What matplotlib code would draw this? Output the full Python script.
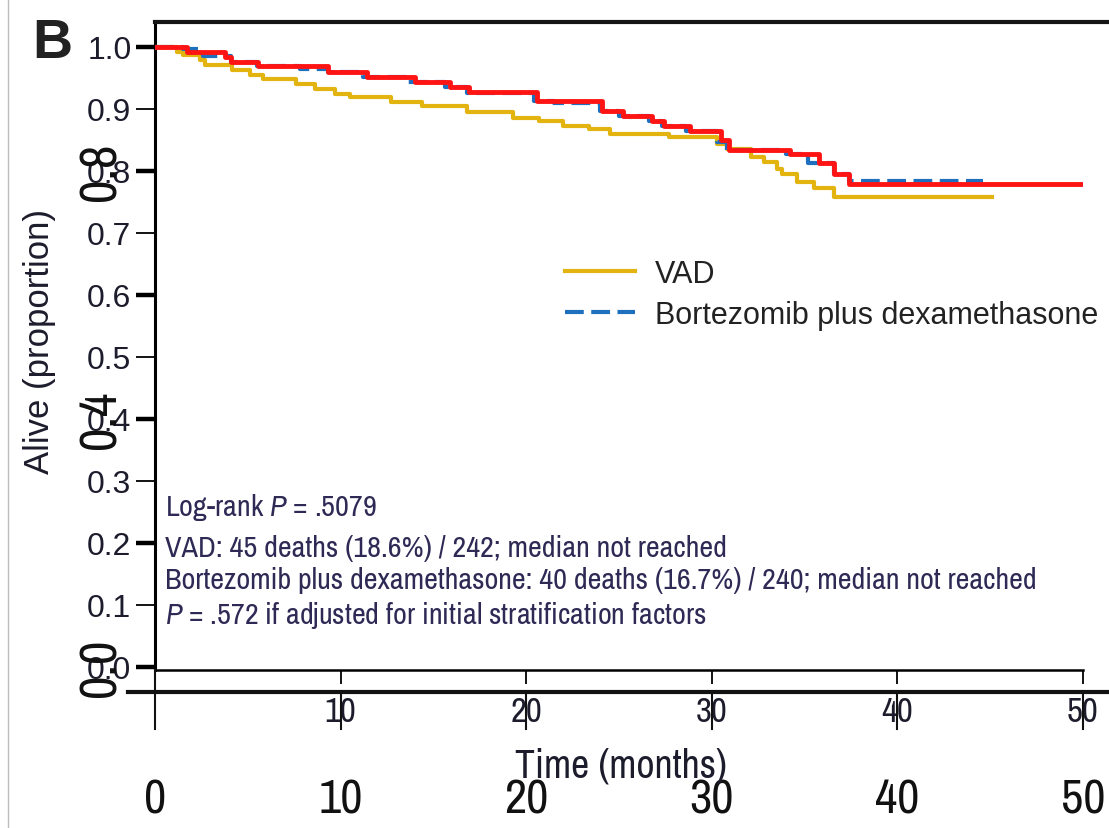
import numpy as np
import matplotlib
matplotlib.use('Agg')
import matplotlib.pyplot as plt
from matplotlib.lines import Line2D
from matplotlib import font_manager
from matplotlib.transforms import blended_transform_factory

W, H = 1109, 829

# Kaplan-Meier steps (months, proportion alive)
vad_t = [0, 1.17, 1.5, 2.42, 2.7, 4.13, 5.1, 5.8, 7.6, 8.6, 9.7, 10.5, 12.7, 14.4, 16.8,
         19.3, 20.7, 22.0, 23.4, 24.5, 27.7, 30.3, 30.8, 32.1, 32.8, 33.5, 33.8, 34.6,
         35.5, 36.6, 45.1]
vad_s = [1.0, 0.991, 0.986, 0.978, 0.970, 0.962, 0.954, 0.948, 0.940, 0.932, 0.924, 0.919,
         0.911, 0.905, 0.895, 0.885, 0.880, 0.873, 0.867, 0.860, 0.854, 0.844, 0.835,
         0.822, 0.814, 0.803, 0.795, 0.782, 0.772, 0.758, 0.758]

bd_t = [0, 1.5, 2.6, 4.1, 5.5, 7.8, 9.3, 11.2, 13.6, 15.6, 16.8, 20.4, 21.5, 24.0, 25.0,
        26.6, 27.3, 28.6, 30.3, 30.8, 34.0, 35.2, 36.6, 37.4, 44.6]
bd_s = [1.0, 0.996, 0.985, 0.976, 0.969, 0.964, 0.959, 0.951, 0.944, 0.935, 0.925, 0.913,
        0.909, 0.897, 0.889, 0.881, 0.873, 0.865, 0.846, 0.834, 0.827, 0.813, 0.795,
        0.784, 0.784]

# red re-traced curve drawn over the original
red_t = [0, 1.74, 3.77, 4.1, 5.56, 9.33, 11.4, 14.0, 15.9, 16.9, 20.6, 24.1, 25.2, 26.8,
         27.4, 28.8, 30.5, 30.9, 34.2, 35.8, 36.6, 37.4, 49.9]
red_s = [1.0, 0.991, 0.983, 0.976, 0.969, 0.959, 0.951, 0.944, 0.935, 0.927, 0.913, 0.897,
         0.889, 0.881, 0.873, 0.865, 0.849, 0.834, 0.827, 0.813, 0.795, 0.779, 0.779]

ytick_vals = [0.0, 0.1, 0.2, 0.3, 0.4, 0.5, 0.6, 0.7, 0.8, 0.9, 1.0]
ytick_labels = ['0.0', '0.1', '0.2', '0.3', '0.4', '0.5', '0.6', '0.7', '0.8', '0.9', '1.0']
xtick_vals = [10, 20, 30, 40, 50]
xtick_labels = ['10', '20', '30', '40', '50']
over_xvals = [0, 10, 20, 30, 40, 50]
over_xlabels = ['0', '10', '20', '30', '40', '50']
over_yvals = [0.8, 0.4, 0.0]
over_ylabels = ['0.8', '0.4', '0.0']
legend_labels = ['VAD', 'Bortezomib plus dexamethasone']
notes = ['Log-rank $P$ = .5079',
         'VAD: 45 deaths (18.6%) / 242; median not reached',
         'Bortezomib plus dexamethasone: 40 deaths (16.7%) / 240; median not reached',
         '$P$ = .572 if adjusted for initial stratification factors']

YEL = '#e3b30f'
BLU = '#1f6fbf'
RED = '#ff1414'
TXT = '#1c1c2c'
NOTE = '#2e2a55'

# pick a condensed family if one is installed
names = sorted({f.name for f in font_manager.fontManager.ttflist})
narrow = [n for n in names if 'Narrow' in n or 'Condensed' in n]
NARROW = (narrow[:1] if narrow else []) + ['Liberation Sans', 'DejaVu Sans']

plt.rcParams['font.family'] = ['Liberation Sans', 'DejaVu Sans']
plt.rcParams['mathtext.fontset'] = 'custom'
plt.rcParams['mathtext.it'] = NARROW[0] + ':italic'
plt.rcParams['mathtext.rm'] = NARROW[0]


def fx(x):
    return x / W


def fy(y):
    return 1 - y / H


fig = plt.figure(figsize=(W / 100, H / 100), dpi=100)
renderer = fig.canvas.get_renderer()


def fit_width(t, target):
    bb = t.get_window_extent(renderer)
    t.set_fontsize(t.get_fontsize() * target / bb.width)


ax = fig.add_axes([fx(155), fy(671), (1083 - 155) / W, (671 - 23) / H])
ax.set_xlim(0, 50)
ax.set_ylim(-0.005, 1.04)

ax.step(vad_t, vad_s, where='post', color=YEL, lw=3, zorder=3)
ax.step(bd_t, bd_s, where='post', color=BLU, lw=3, dashes=(4.5, 1.8), zorder=4)
ax.step(red_t, red_s, where='post', color=RED, lw=3.5, zorder=5)

for side in ['top', 'right']:
    ax.spines[side].set_visible(False)
ax.spines['left'].set_linewidth(2.2)
ax.spines['bottom'].set_linewidth(1.8)

ax.set_yticks(ytick_vals)
ax.set_yticklabels(ytick_labels, fontsize=23, color=TXT)
ax.tick_params(axis='y', length=14, width=1.3, pad=3)
for i, t in enumerate(ax.yaxis.get_major_ticks()):
    if i % 2 == 0:
        t.tick1line.set_markeredgewidth(3.2)

ax.set_xticks(xtick_vals)
ax.set_xticklabels(xtick_labels, fontsize=25, color=TXT, family=NARROW)
ax.tick_params(axis='x', length=10, width=1.3, pad=8)

leg = ax.legend(handles=[Line2D([], [], color=YEL, lw=3),
                         Line2D([], [], color=BLU, lw=3, dashes=(4.5, 1.8))],
                labels=legend_labels, loc='upper left',
                bbox_to_anchor=(fx(565), fy(260)), bbox_transform=fig.transFigure,
                frameon=False, fontsize=22, handlelength=2.3, handletextpad=0.65,
                labelspacing=0.35, borderpad=0, borderaxespad=0)
for t in leg.get_texts():
    t.set_color('#222222')

note_y = [508, 548, 581, 616]
note_txt = []
for s, y in zip(notes, note_y):
    note_txt.append(fig.text(fx(165), fy(y), s, fontsize=22, family=NARROW, color=NOTE,
                             va='center'))
# the longest line runs to about x = 1040 px
bb = note_txt[2].get_window_extent(renderer)
k = 875 / bb.width
for t in note_txt:
    t.set_fontsize(22 * k)

# frame line on top and thin page border on the left
fig.add_artist(Line2D([fx(155), 1], [fy(23), fy(23)], transform=fig.transFigure,
                      lw=3, color='#151515'))
fig.add_artist(Line2D([fx(8), fx(8)], [0, 1], transform=fig.transFigure,
                      lw=1, color='#bdbdbd'))

# overlaid second axis
trans = blended_transform_factory(ax.transData, fig.transFigure)
fig.add_artist(Line2D([fx(128), 1], [fy(693), fy(693)], transform=fig.transFigure,
                      lw=3, color='#111111'))
for v in over_xvals:
    top = 671 if v == 0 else 693
    fig.add_artist(Line2D([v, v], [fy(top), fy(730)], transform=trans, lw=1.5,
                          color='#111111'))

for v, s in zip(over_xvals, over_xlabels):
    fig.text(v, fy(800), s, transform=trans, fontsize=35, family=NARROW,
             color='#111111', ha='center', va='center')

ytrans = blended_transform_factory(fig.transFigure, ax.transData)
for v, s in zip(over_yvals, over_ylabels):
    fig.text(fx(101), v, s, transform=ytrans, fontsize=37, family=NARROW,
             color='#111111', rotation=90, ha='center', va='center')

tm = fig.text(fx(621), fy(766), 'Time (months)', fontsize=29, family=NARROW, color=TXT,
              ha='center', va='center')
fit_width(tm, 212)
fig.text(fx(40), fy(342), 'Alive (proportion)', fontsize=25, color=TXT, rotation=90,
         ha='center', va='center')
fig.text(fx(52), fy(44), 'B', fontsize=40, weight='bold', color='#222222',
         ha='center', va='center')

fig.savefig('out.png', dpi=100)
